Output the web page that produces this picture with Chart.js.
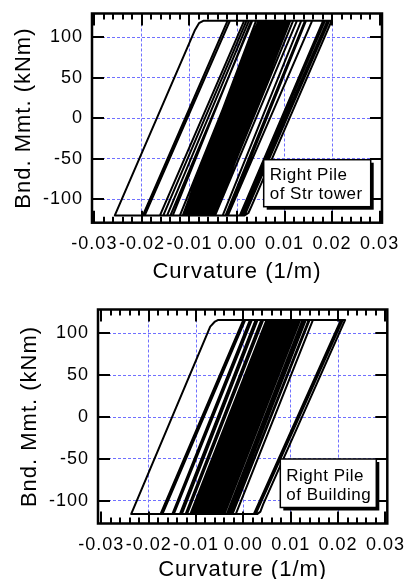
<!DOCTYPE html>
<html><head><meta charset="utf-8">
<script src="https://cdn.jsdelivr.net/npm/chart.js@4.4.1/dist/chart.umd.min.js"></script>
<style>
html,body{margin:0;padding:0;background:#fff;overflow:hidden;width:404px;height:579px;position:relative;}
#c1{position:absolute;left:0;top:0;}
#c2{position:absolute;left:0;top:290px;}
</style></head><body>
<canvas id="c1" width="404" height="290"></canvas>
<canvas id="c2" width="404" height="300"></canvas>
<script>
// ---- tick labels / texts ----
const xTickValues = [-0.03, -0.02, -0.01, 0, 0.01, 0.02, 0.03];
const xMinorStep = 0.002;
const yTickValues = [-100, -50, 0, 50, 100];
const xTitle = 'Curvature (1/m)';
const yTitle = 'Bnd. Mmt. (kNm)';
const topLegend = ['Right Pile', 'of Str tower'];
const bottomLegend = ['Right Pile', 'of Building'];

// ---- top panel: curvature (1/m) and bending moment (kNm) at the turning points ----
const topCurvature = [
  0, 0.0076, 0.0090, -0.0065, -0.0080, 0.0075, 0.0085, -0.0070,
  -0.0095, 0.0060, 0.0105, -0.0050, -0.0105, 0.0048, 0.0065, -0.0090,
  -0.0257, -0.0089, -0.0080, -0.0071,
  -0.0015, -0.0194, -0.0198, -0.0020, 0.0020, -0.0155, -0.0162, 0.0015,
  0.0032, -0.0140, -0.0147, 0.0025, 0.0045, -0.0120, -0.0135, 0.0030,
  0.0055, -0.0105, -0.0114, 0.0040, 0.0060, -0.0098, -0.0102, 0.0053,
  0.0070, -0.0086, -0.0090, 0.0064, 0.0080, -0.0076, -0.0082, 0.0073,
  0.0090, -0.0066, -0.0072, 0.0085, 0.0100, -0.0058, -0.0064, 0.0094,
  0.0112, -0.0050, -0.0054, 0.0105, 0.0126, -0.0046, -0.0050, 0.0118,
  0.0158, -0.0019, -0.0024, 0.0143,
  0.0199, 0.0031, 0.0024, 0.0016,
  0.0012, 0.0190, 0.0194, 0.0016, 0.0006, 0.0181, 0.0185, 0.0008,
  -0.0030, 0.0135, 0.0145, -0.0020, -0.0070, 0.0088, 0.0096, -0.0062,
  -0.0086, 0.0069, 0.0077, -0.0080, -0.0094, 0.0061, 0.0067, -0.0091,
  -0.0108, 0.0046, 0.0050,
  -0.0105, -0.0110, 0.0045, 0.0057, -0.0099, -0.0104, 0.0051, 0.0063,
  -0.0093, -0.0097, 0.0058, 0.0072, -0.0084, -0.0088, 0.0068, 0.0079,
  -0.0077, -0.0080, 0.0076, 0.0087, -0.0069, -0.0074, 0.0083, 0.0092,
  -0.0064, -0.0068, 0.0088, 0.0098, -0.0058, -0.0061, 0.0097, 0.0108,
  -0.0050, -0.0056, 0.0102, 0.0110, -0.0047, -0.0052, 0.0106, 0.0109,
  0.0030
];
const topMoment = [
  0, 120, 120, -120, -120, 120, 120, -120,
  -120, 120, 120, -120, -120, 120, 120, -120,
  -120, 108, 117, 120,
  120, -120, -120, 120, 120, -120, -120, 120,
  120, -120, -120, 120, 120, -120, -120, 120,
  120, -120, -120, 120, 120, -120, -120, 120,
  120, -120, -120, 120, 120, -120, -120, 120,
  120, -120, -120, 120, 120, -120, -120, 120,
  120, -120, -120, 120, 120, -120, -120, 120,
  120, -120, -120, 120,
  120, -108, -117, -120,
  -120, 120, 120, -120, -120, 120, 120, -120,
  -120, 120, 120, -120, -120, 120, 120, -120,
  -120, 120, 120, -120, -120, 120, 120, -120,
  -120, 120, 120,
  -120, -120, 120, 120, -120, -120, 120, 120,
  -120, -120, 120, 120, -120, -120, 120, 120,
  -120, -120, 120, 120, -120, -120, 120, 120,
  -120, -120, 120, 120, -120, -120, 120, 120,
  -120, -120, 120, 120, -120, -120, 120, 120,
  10
];

// ---- bottom panel ----
const bottomCurvature = [
  0, 0.0070, 0.0080, -0.0078, -0.0090, 0.0068, 0.0075, -0.0083,
  -0.0237, -0.0070, -0.0060, -0.0053,
  0.0004, -0.0171, -0.0175, 0.0000, 0.0018, -0.0147, -0.0150, 0.0014,
  0.0030, -0.0130, -0.0134, 0.0026, 0.0042, -0.0119, -0.0122, 0.0038,
  0.0056, -0.0106, -0.0112, 0.0049, 0.0065, -0.0096, -0.0100, 0.0060,
  0.0074, -0.0086, -0.0090, 0.0070, 0.0083, -0.0077, -0.0081, 0.0079,
  0.0092, -0.0068, -0.0072, 0.0088, 0.0102, -0.0059, -0.0063, 0.0098,
  0.0112, -0.0048, -0.0052, 0.0109, 0.0120, -0.0040, -0.0044, 0.0118,
  0.0147, -0.0016, -0.0023, 0.0140,
  0.0215, 0.0042, 0.0036, 0.0029,
  0.0022, 0.0206, 0.0210, 0.0026, -0.0028, 0.0132, 0.0138, -0.0024,
  -0.0035, 0.0125, 0.0128, -0.0032, -0.0068, 0.0093, 0.0100, -0.0061,
  -0.0086, 0.0075, 0.0080, -0.0081, -0.0096, 0.0064, 0.0070, -0.0092,
  -0.0104, 0.0056, 0.0060,
  -0.0100, -0.0108, 0.0052, 0.0063, -0.0097, -0.0101, 0.0058, 0.0069,
  -0.0091, -0.0094, 0.0066, 0.0077, -0.0083, -0.0087, 0.0073, 0.0086,
  -0.0074, -0.0078, 0.0082, 0.0095, -0.0065, -0.0070, 0.0091, 0.0105,
  -0.0055, -0.0060, 0.0101, 0.0115, -0.0045, -0.0050, 0.0111, 0.0117,
  -0.0042, -0.0046, 0.0114, 0.0119,
  0.0040
];
const bottomMoment = [
  0, 116, 116, -116, -116, 116, 116, -116,
  -116, 108, 114, 116,
  116, -116, -116, 116, 116, -116, -116, 116,
  116, -116, -116, 116, 116, -116, -116, 116,
  116, -116, -116, 116, 116, -116, -116, 116,
  116, -116, -116, 116, 116, -116, -116, 116,
  116, -116, -116, 116, 116, -116, -116, 116,
  116, -116, -116, 116, 116, -116, -116, 116,
  116, -116, -116, 116,
  116, -104, -113, -116,
  -116, 116, 116, -116, -116, 116, 116, -116,
  -116, 116, 116, -116, -116, 116, 116, -116,
  -116, 116, 116, -116, -116, 116, 116, -116,
  -116, 116, 116,
  -116, -116, 116, 116, -116, -116, 116, 116,
  -116, -116, 116, 116, -116, -116, 116, 116,
  -116, -116, 116, 116, -116, -116, 116, 116,
  -116, -116, 116, 116, -116, -116, 116, 116,
  -116, -116, 116, 116,
  10
];

// ---- styling ----
const FONT = "'Liberation Sans', Arial, Helvetica, sans-serif";
const GRID = '#7070ff';

const spacingPlugin = {
  id: 'spacing',
  beforeLayout(chart) { chart.ctx.letterSpacing = '1px'; },
  beforeDraw(chart) { chart.ctx.letterSpacing = '1px'; }
};

const frameTicks = {
  id: 'frameTicks',
  afterDatasetsDraw(chart, args, o) {
    const {ctx, chartArea: a, scales: {x, y}} = chart;
    ctx.save();
    ctx.strokeStyle = '#000';
    ctx.lineWidth = 2;
    ctx.beginPath();
    x.ticks.forEach(t => {
      const p = Math.round(x.getPixelForValue(t.value));
      ctx.moveTo(p, a.bottom); ctx.lineTo(p, a.bottom - o.major);
      ctx.moveTo(p, a.top); ctx.lineTo(p, a.top + o.major);
    });
    const n = Math.round(0.03 / xMinorStep);
    for (let i = -n; i <= n; i++) {
      if (i % 5 === 0) continue;
      const p = Math.round(x.getPixelForValue(i * xMinorStep));
      if (p <= a.left + 1 || p >= a.right - 1) continue;
      ctx.moveTo(p, a.bottom); ctx.lineTo(p, a.bottom - o.minor);
      ctx.moveTo(p, a.top); ctx.lineTo(p, a.top + o.minor);
    }
    y.ticks.forEach(t => {
      const p = Math.round(y.getPixelForValue(t.value));
      ctx.moveTo(a.left, p); ctx.lineTo(a.left + o.major, p);
      ctx.moveTo(a.right, p); ctx.lineTo(a.right - o.major, p);
    });
    ctx.stroke();
    ctx.lineWidth = 2.5;
    ctx.strokeRect(a.left, a.top, a.right - a.left, a.bottom - a.top);
    ctx.restore();
  }
};

const noteBox = {
  id: 'noteBox',
  afterDraw(chart, args, o) {
    const {ctx, chartArea: a} = chart;
    ctx.save();
    const x1 = a.right - o.right - o.width;
    const y1 = a.bottom - o.bottom - o.height;
    ctx.fillStyle = '#000';
    ctx.fillRect(x1 + o.shadow, y1 + o.shadow, o.width, o.height);
    ctx.fillStyle = '#fff';
    ctx.fillRect(x1, y1, o.width, o.height);
    ctx.strokeStyle = '#000';
    ctx.lineWidth = 1.5;
    ctx.strokeRect(x1, y1, o.width, o.height);
    ctx.fillStyle = '#000';
    ctx.font = '17px ' + FONT;
    ctx.letterSpacing = '0.5px';
    ctx.textAlign = 'left';
    ctx.textBaseline = 'alphabetic';
    o.lines.forEach((s, i) => ctx.fillText(s, x1 + o.padX, y1 + o.base0 + i * o.gap));
    ctx.restore();
  }
};

function fmtX(v) { return (Math.abs(v) < 1e-9 ? 0 : v).toFixed(2); }

function makeChart(id, curv, mom, c) {
  const points = curv.map((v, i) => ({x: v, y: mom[i]}));
  return new Chart(document.getElementById(id), {
    type: 'scatter',
    data: {datasets: [{
      data: points, showLine: true, borderColor: '#000', borderWidth: 2,
      pointRadius: 0, pointHoverRadius: 0, fill: false, tension: 0,
      borderJoinStyle: 'round'
    }]},
    options: {
      responsive: false, animation: false, devicePixelRatio: 1, events: [],
      layout: {padding: {left: 0, top: c.padTop, right: c.padRight, bottom: 0}},
      plugins: {
        legend: {display: false}, tooltip: {enabled: false},
        frameTicks: {major: 12, minor: 6},
        noteBox: c.note
      },
      scales: {
        x: {
          type: 'linear', min: c.xMin, max: c.xMax,
          afterBuildTicks: s => { s.ticks = xTickValues.map(v => ({value: v})); },
          afterFit: s => { s.height = c.xHeight; s.paddingLeft = 0; s.paddingRight = 0; },
          ticks: {autoSkip: false, maxRotation: 0, minRotation: 0, padding: c.xTickPad,
                  color: '#000', font: {family: FONT, size: 18}, callback: v => fmtX(v)},
          grid: {drawTicks: false, lineWidth: 1,
                 color: g => (g.tick && Math.abs(g.tick.value) < 0.025) ? GRID : 'rgba(0,0,0,0)'},
          border: {display: false, dash: [3, 2]},
          title: {display: true, text: xTitle, color: '#000', font: {family: FONT, size: 22},
                  padding: {top: 0, bottom: c.xTitlePad}}
        },
        y: {
          type: 'linear', min: c.yMin, max: c.yMax,
          afterBuildTicks: s => { s.ticks = yTickValues.map(v => ({value: v})); },
          afterFit: s => { s.width = c.yWidth; s.paddingTop = 0; s.paddingBottom = 0; },
          ticks: {autoSkip: false, padding: c.yTickPad, color: '#000',
                  font: {family: FONT, size: 18}, callback: v => String(v)},
          grid: {drawTicks: false, lineWidth: 1, color: GRID},
          border: {display: false, dash: [3, 2]},
          title: {display: true, text: yTitle, color: '#000', font: {family: FONT, size: 22},
                  padding: {top: c.yTitlePad, bottom: 0}}
        }
      }
    },
    plugins: [spacingPlugin, frameTicks, noteBox]
  });
}

makeChart('c1', topCurvature, topMoment, {
  padTop: 13.5, padRight: 22, yWidth: 92, xHeight: 67.3,
  xMin: -0.0305, xMax: 0.0305, yMin: -129, yMax: 129,
  xTickPad: 11, yTickPad: 9, xTitlePad: 4.4, yTitlePad: 11.2,
  note: {lines: topLegend, width: 107, height: 47, right: 11.3, bottom: 16,
         shadow: 3, padX: 6, base0: 20, gap: 19}
});
makeChart('c2', bottomCurvature, bottomMoment, {
  padTop: 19.5, padRight: 16.7, yWidth: 98, xHeight: 66.5,
  xMin: -0.0307, xMax: 0.0304, yMin: -127.2, yMax: 128.4,
  xTickPad: 11, yTickPad: 9, xTitlePad: 6.4, yTitlePad: 16.9,
  note: {lines: bottomLegend, width: 96, height: 48.5, right: 11, bottom: 16,
         shadow: 3, padX: 6, base0: 21.7, gap: 19.3}
});
</script>
</body></html>
